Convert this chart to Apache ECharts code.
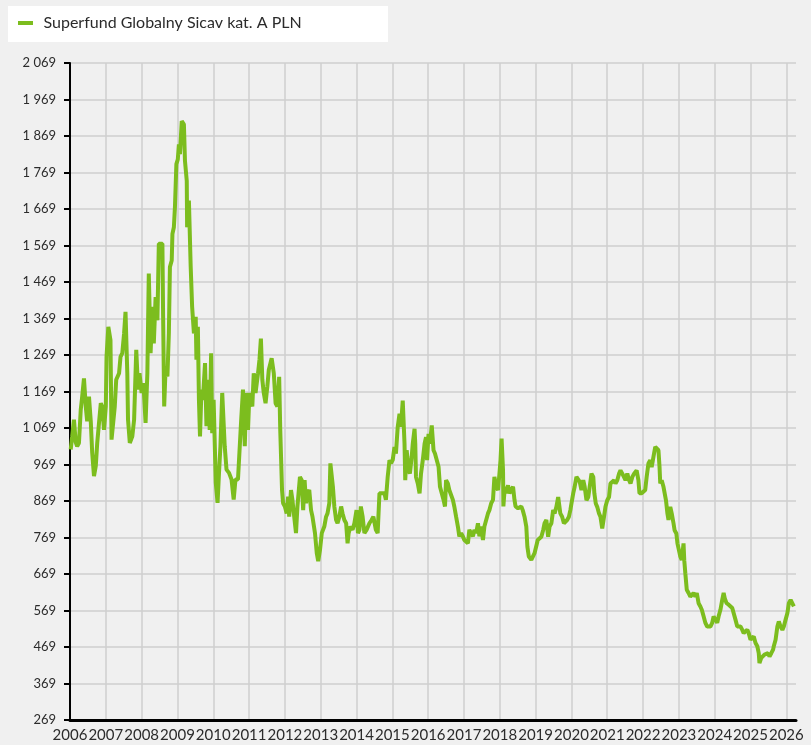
<!DOCTYPE html>
<html>
<head>
<meta charset="utf-8">
<script src="https://cdn.jsdelivr.net/npm/echarts@6/dist/echarts.min.js"></script>
<style>
html,body{margin:0;padding:0;background:#f0f0f0;}
#chart{width:811px;height:745px;}
</style>
</head>
<body>
<div id="chart"></div>
<script>
// ---- data (fractional years, fund value) ----
const seriesName = 'Superfund Globalny Sicav kat. A PLN';
const yearTicks = [2006,2007,2008,2009,2010,2011,2012,2013,2014,2015,2016,2017,2018,2019,2020,2021,2022,2023,2024,2025,2026];
const years = [
2006.02,2006.06,2006.11,2006.16,2006.20,2006.25,2006.30,2006.34,2006.39,2006.44,2006.48,2006.53,2006.58,2006.62,2006.67,2006.72,2006.76,2006.81,2006.86,2006.90,2006.95,
2007.00,2007.02,2007.07,2007.13,2007.16,2007.21,2007.25,2007.29,2007.37,2007.41,2007.46,2007.51,2007.55,2007.60,2007.62,2007.67,2007.74,2007.79,2007.85,2007.90,2007.94,
2008.00,2008.05,2008.11,2008.16,2008.20,2008.25,2008.30,2008.34,2008.39,2008.44,2008.48,2008.58,2008.60,2008.63,2008.67,2008.72,2008.76,2008.79,2008.84,2008.86,2008.90,2008.93,2008.97,
2009.01,2009.04,2009.07,2009.12,2009.18,2009.21,2009.26,2009.27,2009.32,2009.37,2009.41,2009.46,2009.51,2009.53,2009.57,2009.60,2009.63,2009.67,2009.71,2009.77,2009.81,2009.86,2009.90,2009.94,2009.97,
2010.01,2010.07,2010.12,2010.16,2010.20,2010.25,2010.32,2010.37,2010.44,2010.51,2010.57,2010.62,2010.69,2010.73,2010.78,2010.83,2010.88,2010.92,2010.97,
2011.01,2011.09,2011.13,2011.18,2011.25,2011.29,2011.33,2011.37,2011.41,2011.46,2011.51,2011.55,2011.63,2011.69,2011.74,2011.79,2011.84,2011.87,2011.92,2011.95,
2012.00,2012.05,2012.09,2012.12,2012.17,2012.21,2012.26,2012.31,2012.35,2012.42,2012.47,2012.51,2012.55,2012.59,2012.63,2012.68,2012.73,2012.77,2012.84,2012.89,2012.93,2012.98,
2013.03,2013.10,2013.15,2013.19,2013.24,2013.27,2013.31,2013.34,2013.38,2013.43,2013.47,2013.52,2013.57,2013.61,2013.66,2013.71,2013.75,2013.78,2013.83,2013.89,2013.94,
2014.00,2014.04,2014.08,2014.12,2014.17,2014.22,2014.28,2014.36,2014.42,2014.47,2014.54,2014.59,2014.64,2014.68,2014.78,2014.82,2014.87,2014.92,2014.96,
2015.01,2015.06,2015.10,2015.15,2015.20,2015.24,2015.29,2015.34,2015.36,2015.40,2015.45,2015.49,2015.54,2015.57,2015.62,2015.64,2015.66,2015.71,2015.76,2015.80,2015.85,2015.90,2015.94,2015.97,
2016.01,2016.05,2016.10,2016.15,2016.19,2016.24,2016.29,2016.33,2016.38,2016.43,2016.47,2016.50,2016.55,2016.59,2016.64,2016.69,2016.73,2016.78,2016.83,2016.87,2016.92,2016.97,
2017.01,2017.06,2017.11,2017.15,2017.20,2017.25,2017.29,2017.34,2017.39,2017.43,2017.48,2017.53,2017.57,2017.62,2017.67,2017.71,2017.76,2017.81,2017.85,2017.90,2017.95,2017.99,
2018.02,2018.05,2018.09,2018.10,2018.14,2018.18,2018.23,2018.27,2018.32,2018.37,2018.41,2018.44,2018.51,2018.55,2018.60,2018.64,2018.69,2018.74,2018.77,2018.81,2018.88,2018.92,2018.97,
2019.02,2019.06,2019.11,2019.16,2019.21,2019.25,2019.30,2019.35,2019.39,2019.44,2019.49,2019.53,2019.58,2019.63,2019.67,2019.69,2019.74,2019.79,2019.83,2019.88,2019.93,2019.97,
2020.00,2020.05,2020.09,2020.14,2020.19,2020.23,2020.28,2020.33,2020.37,2020.42,2020.47,2020.51,2020.56,2020.61,2020.64,2020.68,2020.72,2020.77,2020.81,2020.86,2020.91,2020.95,
2021.00,2021.05,2021.09,2021.14,2021.19,2021.23,2021.28,2021.33,2021.37,2021.42,2021.47,2021.51,2021.56,2021.61,2021.65,2021.70,2021.75,2021.82,2021.87,2021.90,2021.96,
2022.01,2022.06,2022.10,2022.15,2022.20,2022.24,2022.29,2022.34,2022.38,2022.43,2022.46,2022.48,2022.52,2022.57,2022.62,2022.64,2022.68,2022.71,2022.76,2022.80,2022.85,2022.88,2022.93,2022.96,
2023.00,2023.04,2023.08,2023.13,2023.15,2023.18,2023.22,2023.27,2023.32,2023.36,2023.41,2023.46,2023.50,2023.55,2023.60,2023.64,2023.69,2023.74,2023.79,2023.83,2023.88,2023.93,2023.97,
2024.02,2024.07,2024.11,2024.16,2024.21,2024.25,2024.28,2024.33,2024.39,2024.44,2024.49,2024.53,2024.58,2024.63,2024.67,2024.72,2024.77,2024.81,2024.86,2024.91,2024.95,
2025.00,2025.05,2025.09,2025.14,2025.19,2025.23,2025.25,2025.30,2025.35,2025.39,2025.44,2025.49,2025.53,2025.58,2025.63,2025.65,2025.70,2025.75,2025.79,2025.84,2025.89,2025.93,2025.98,
2026.03,2026.07,2026.12,2026.17,2026.21
];
const values = [
1010,1045,1092,1030,1019,1028,1119,1155,1205,1128,1087,1155,1087,1001,937,965,1028,1083,1137,1128,1064,
1128,1264,1346,1310,1037,1037,1128,1201,1219,1264,1274,1328,1387,1219,1092,1028,1046,1092,1283,1174,1219,
1165,1192,1083,1219,1492,1274,1401,1301,1428,1364,1574,1574,1374,1128,1237,1210,1328,1510,1528,1601,1619,1674,1792,
1805,1846,1819,1910,1901,1801,1746,1619,1692,1510,1401,1328,1374,1256,1346,1146,1046,1174,1146,1247,1074,1201,1064,1274,1055,
1146,919,864,946,1019,1165,1019,955,946,928,873,928,928,1001,1092,1174,1019,1165,1064,
1165,1128,1219,1165,1219,1256,1314,1201,1165,1137,1183,1228,1260,1219,1137,1128,1209,1064,899,863,
854,835,881,826,899,872,826,781,854,935,926,844,926,863,890,899,844,826,781,726,704,735,
781,799,826,835,863,972,972,908,854,817,808,826,854,835,817,808,753,781,799,790,808,
844,781,790,854,826,781,790,808,817,826,790,781,890,894,890,872,935,981,972,
981,1017,999,1072,1108,1072,1144,1026,926,1008,954,944,990,1026,1067,1026,935,917,890,944,981,1026,1044,981,
1053,1026,1076,1008,999,999,963,908,908,872,854,926,917,899,899,872,854,826,799,772,781,772,
762,767,753,790,781,772,790,781,808,772,799,762,799,817,835,844,863,872,935,908,899,944,
981,1040,954,854,908,890,912,890,899,908,872,854,849,844,854,844,826,799,744,717,708,703,726,
726,762,760,771,789,808,817,771,799,808,844,835,853,880,885,835,826,808,812,817,826,844,
862,890,908,935,940,922,899,926,908,871,880,908,944,935,890,862,853,835,826,794,826,853,
871,880,917,922,926,917,926,944,953,944,949,926,944,926,917,935,944,953,926,890,890,
894,899,935,972,981,962,990,1017,1017,1008,962,917,926,908,908,871,835,817,853,835,808,789,780,753,
735,717,707,753,707,671,626,617,607,612,617,607,617,589,580,571,553,535,525,525,525,535,553,
544,535,553,571,598,617,603,589,585,580,576,571,544,525,521,525,516,507,507,516,507,
489,489,498,480,471,452,425,439,443,448,443,452,443,452,462,471,489,525,539,525,516,525,544,
562,589,598,594,580
];
const yMin = 269, yMax = 2069, yStep = 100;
const xMin = 2006, xMax = 2026.27;

const chart = echarts.init(document.getElementById('chart'), null, {renderer:'canvas'});
const FONT = 'Lato, "Open Sans", sans-serif';
const fmtY = v => { v = Math.round(v); return v >= 1000 ? Math.floor(v/1000) + ' ' + String(v%1000).padStart(3,'0') : String(v); };

chart.setOption({
  backgroundColor: '#f0f0f0',
  animation: false,
  textStyle: {fontFamily: FONT},
  graphic: [{
    type: 'rect', left: 8, top: 6, z: -1,
    shape: {width: 380, height: 36},
    style: {fill: '#ffffff'}
  }],
  legend: {
    data: [seriesName],
    left: 18, top: 15, padding: 0,
    icon: 'path://M0,0h15v4h-15z',
    itemWidth: 26, itemHeight: 4,
    textStyle: {fontSize: 16, color: '#2b2b2b', fontFamily: FONT},
    selectedMode: false
  },
  grid: {left: 70, right: 15, top: 63, bottom: 25, containLabel: false},
  xAxis: {
    type: 'value', min: xMin, max: xMax, interval: 1,
    axisLine: {show: true, onZero: false, lineStyle: {color: '#000', width: 3}},
    axisTick: {show: false},
    axisLabel: {
      show: true, margin: 8, fontSize: 15, color: '#2b2b2b', fontFamily: FONT,
      showMaxLabel: false,
      formatter: v => (yearTicks.indexOf(Math.round(v)) >= 0 && Math.abs(v - Math.round(v)) < 1e-6) ? String(Math.round(v)) : ''
    },
    splitLine: {show: true, showMaxLine: false, lineStyle: {color: '#cfcfcf', width: 1.5}}
  },
  yAxis: {
    type: 'value', min: yMin, max: yMax, interval: yStep,
    axisLine: {show: true, onZero: false, lineStyle: {color: '#000', width: 2}},
    axisTick: {show: true, length: 6, lineStyle: {color: '#000', width: 2}},
    axisLabel: {margin: 14, fontSize: 13, color: '#2b2b2b', fontFamily: FONT, formatter: fmtY},
    splitLine: {show: true, lineStyle: {color: '#cfcfcf', width: 1.5}}
  },
  series: [{
    name: seriesName,
    type: 'line',
    data: years.map((y, i) => [y, values[i]]),
    showSymbol: false,
    symbol: 'none',
    lineStyle: {color: '#7cbd1e', width: 4},
    itemStyle: {color: '#7cbd1e'},
    z: 3
  }]
});
</script>
</body>
</html>
